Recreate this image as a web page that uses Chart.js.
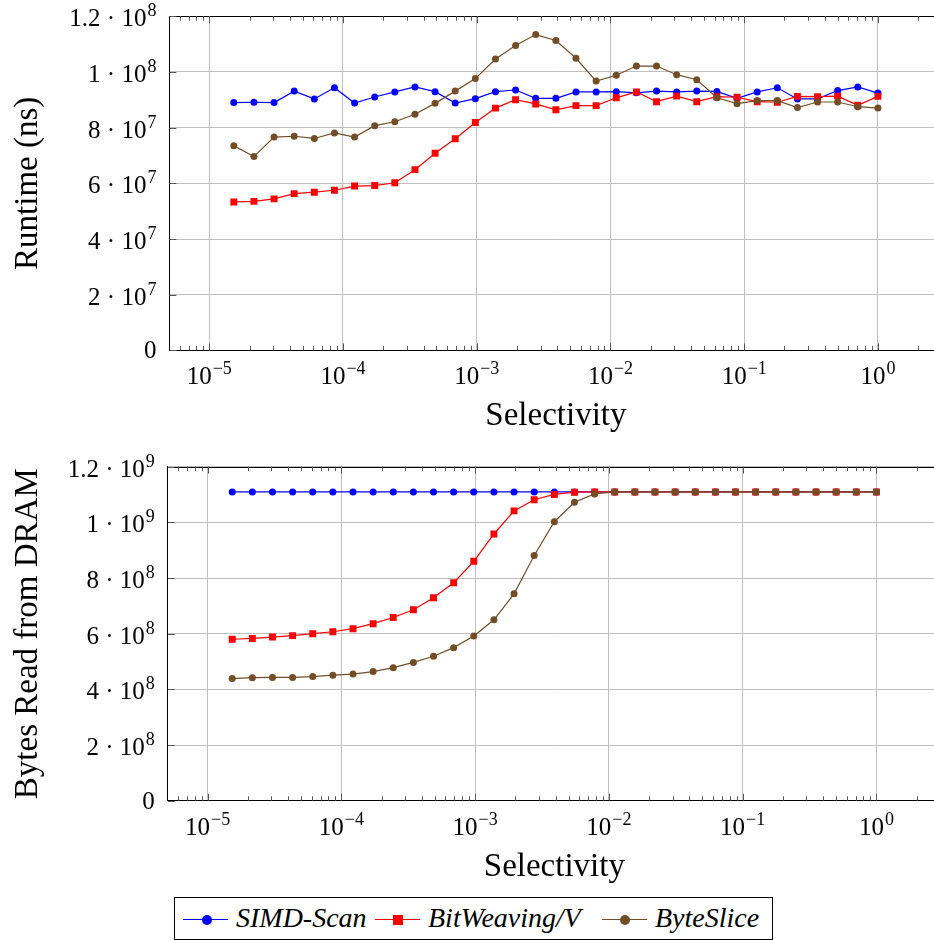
<!DOCTYPE html>
<html>
<head>
<meta charset="utf-8">
<script src="https://cdn.jsdelivr.net/npm/chart.js@4.4.1/dist/chart.umd.min.js"></script>
<style>
  html, body { margin: 0; padding: 0; overflow: hidden; background: #fff; }
  body { width: 934px; height: 940px; position: relative; }
  canvas { position: absolute; left: 0; }
  #runtime { top: 0; }
  #bytes { top: 450px; }
  #legend {
    position: absolute; left: 174px; top: 897px; width: 599px; height: 43px;
    border: 1px solid #000; box-sizing: border-box; background: #fff;
    font: italic 28px 'Liberation Serif', 'DejaVu Serif', serif;
  }
  #legend .line { position: absolute; top: 21px; height: 1.2px; width: 45px; }
  #legend .mark { position: absolute; width: 10px; height: 10px; top: 16.5px; }
  #legend .txt { position: absolute; top: 6px; line-height: 28px; white-space: nowrap; }
</style>
</head>
<body>
<canvas id="runtime" width="960" height="450"></canvas>
<canvas id="bytes" width="960" height="450"></canvas>
<div id="legend">
  <div class="line" style="left:8px;background:#0000ff"></div>
  <div class="mark" style="left:27px;background:#0000ff;border-radius:50%"></div>
  <span class="txt" style="left:61px">SIMD-Scan</span>
  <div class="line" style="left:200px;background:#ff0000"></div>
  <div class="mark" style="left:218px;background:#ff0000"></div>
  <span class="txt" style="left:253px">BitWeaving/V</span>
  <div class="line" style="left:427px;background:#734d26"></div>
  <div class="mark" style="left:445px;background:#734d26;border-radius:50%"></div>
  <span class="txt" style="left:480px">ByteSlice</span>
</div>
<script>
// selectivity sampled at 2^-16 ... 2^0 in half-power steps
const selectivity = [
  1.526e-5, 2.158e-5, 3.052e-5, 4.316e-5, 6.104e-5, 8.632e-5, 1.221e-4, 1.726e-4,
  2.441e-4, 3.453e-4, 4.883e-4, 6.905e-4, 9.766e-4, 1.381e-3, 1.953e-3, 2.762e-3,
  3.906e-3, 5.524e-3, 7.813e-3, 1.105e-2, 1.563e-2, 2.210e-2, 3.125e-2, 4.419e-2,
  6.25e-2, 8.839e-2, 0.125, 0.1768, 0.25, 0.3536, 0.5, 0.7071, 1,
];

// runtime (ns)
const runtimeSimd = [
  8.90e7, 8.91e7, 8.90e7, 9.31e7, 9.03e7, 9.43e7, 8.88e7, 9.10e7,
  9.28e7, 9.46e7, 9.29e7, 8.88e7, 9.04e7, 9.29e7, 9.35e7, 9.05e7,
  9.05e7, 9.28e7, 9.28e7, 9.29e7, 9.25e7, 9.31e7, 9.28e7, 9.31e7,
  9.30e7, 9.05e7, 9.28e7, 9.43e7, 9.03e7, 9.03e7, 9.33e7, 9.46e7, 9.24e7,
];
const runtimeBitWeaving = [
  5.33e7, 5.35e7, 5.44e7, 5.63e7, 5.68e7, 5.75e7, 5.90e7, 5.92e7,
  6.02e7, 6.49e7, 7.08e7, 7.60e7, 8.18e7, 8.70e7, 9.00e7, 8.85e7,
  8.64e7, 8.79e7, 8.79e7, 9.07e7, 9.28e7, 8.93e7, 9.13e7, 8.93e7,
  9.11e7, 9.09e7, 8.93e7, 8.91e7, 9.12e7, 9.11e7, 9.13e7, 8.80e7, 9.12e7,
];
const runtimeByteSlice = [
  7.35e7, 6.96e7, 7.66e7, 7.69e7, 7.61e7, 7.81e7, 7.66e7, 8.07e7,
  8.21e7, 8.48e7, 8.87e7, 9.31e7, 9.76e7, 1.046e8, 1.095e8, 1.134e8,
  1.113e8, 1.049e8, 9.67e7, 9.88e7, 1.021e8, 1.021e8, 9.90e7, 9.72e7,
  9.07e7, 8.86e7, 8.97e7, 8.97e7, 8.72e7, 8.92e7, 8.92e7, 8.75e7, 8.70e7,
];

// bytes read from DRAM
const bytesSimd = [
  1.109e9, 1.109e9, 1.109e9, 1.109e9, 1.109e9, 1.109e9, 1.109e9, 1.109e9,
  1.109e9, 1.109e9, 1.109e9, 1.109e9, 1.109e9, 1.109e9, 1.109e9, 1.109e9,
  1.109e9, 1.109e9, 1.109e9, 1.109e9, 1.109e9, 1.109e9, 1.109e9, 1.109e9,
  1.109e9, 1.109e9, 1.109e9, 1.109e9, 1.109e9, 1.109e9, 1.109e9, 1.109e9, 1.109e9,
];
const bytesBitWeaving = [
  5.80e8, 5.83e8, 5.88e8, 5.93e8, 6.00e8, 6.07e8, 6.18e8, 6.36e8,
  6.58e8, 6.86e8, 7.29e8, 7.83e8, 8.60e8, 9.58e8, 1.041e9, 1.081e9,
  1.100e9, 1.108e9, 1.109e9, 1.109e9, 1.109e9, 1.109e9, 1.109e9, 1.109e9,
  1.109e9, 1.109e9, 1.109e9, 1.109e9, 1.109e9, 1.109e9, 1.109e9, 1.109e9, 1.109e9,
];
const bytesByteSlice = [
  4.39e8, 4.42e8, 4.43e8, 4.43e8, 4.46e8, 4.51e8, 4.55e8, 4.64e8,
  4.78e8, 4.97e8, 5.19e8, 5.50e8, 5.92e8, 6.50e8, 7.43e8, 8.81e8,
  1.002e9, 1.072e9, 1.102e9, 1.109e9, 1.109e9, 1.109e9, 1.109e9, 1.109e9,
  1.109e9, 1.109e9, 1.109e9, 1.109e9, 1.109e9, 1.109e9, 1.109e9, 1.109e9, 1.109e9,
];

const selectivityTicks = [1e-5, 1e-4, 1e-3, 1e-2, 1e-1, 1];
const selectivityTickLabels = ['10^−5', '10^−4', '10^−3', '10^−2', '10^−1', '10^0'];
const runtimeTicks = [0, 2e7, 4e7, 6e7, 8e7, 1e8, 1.2e8];
const runtimeTickLabels = ['0', '2 · 10^7', '4 · 10^7', '6 · 10^7', '8 · 10^7', '1 · 10^8', '1.2 · 10^8'];
const bytesTicks = [0, 2e8, 4e8, 6e8, 8e8, 1e9, 1.2e9];
const bytesTickLabels = ['0', '2 · 10^8', '4 · 10^8', '6 · 10^8', '8 · 10^8', '1 · 10^9', '1.2 · 10^9'];

const COLORS = {
  simd: '#0000ff',
  bitweaving: '#ff0000',
  byteslice: '#734d26',
  grid: '#bfbfbf',
  tick: '#555555',
};
const SERIF = "'Liberation Serif', 'DejaVu Serif', serif";
const X_MIN = Math.pow(10, -5.298);
const X_MAX = Math.pow(10, 0.482);

// label like "1.2 · 10^8": base text plus a raised exponent
function drawPow(ctx, label, x, y, align) {
  const [base, sup] = label.split('^');
  ctx.font = `25px ${SERIF}`;
  const wb = ctx.measureText(base).width;
  let ws = 0;
  if (sup) {
    ctx.font = `18px ${SERIF}`;
    ws = ctx.measureText(sup).width + 1;
  }
  const x0 = align === 'right' ? x - wb - ws : x - (wb + ws) / 2;
  ctx.textAlign = 'left';
  ctx.textBaseline = 'alphabetic';
  ctx.font = `25px ${SERIF}`;
  ctx.fillText(base, x0, y);
  if (sup) {
    ctx.font = `18px ${SERIF}`;
    ctx.fillText(sup, x0 + wb + 1, y - 10);
  }
}

const framePlugin = {
  id: 'frame',
  afterDraw(chart, args, opts) {
    const { ctx, chartArea: a, scales: { x, y } } = chart;
    ctx.save();
    ctx.lineWidth = 1;

    // top border
    ctx.strokeStyle = '#000';
    ctx.beginPath();
    ctx.moveTo(a.left, Math.round(a.top) + 0.5);
    ctx.lineTo(a.right, Math.round(a.top) + 0.5);
    ctx.stroke();

    // log ticks, inward, bottom and top
    ctx.strokeStyle = COLORS.tick;
    for (let e = -6; e <= 0; e++) {
      for (let m = 1; m <= 9; m++) {
        const v = m * Math.pow(10, e);
        if (v < x.min || v > x.max) continue;
        const px = Math.round(x.getPixelForValue(v)) + 0.5;
        const len = m === 1 ? 7 : 4.5;
        ctx.beginPath();
        ctx.moveTo(px, a.bottom);
        ctx.lineTo(px, a.bottom - len);
        ctx.moveTo(px, a.top);
        ctx.lineTo(px, a.top + len);
        ctx.stroke();
      }
    }
    opts.yTicks.forEach(v => {
      const py = Math.round(y.getPixelForValue(v)) + 0.5;
      ctx.beginPath();
      ctx.moveTo(a.left, py);
      ctx.lineTo(a.left + 7, py);
      ctx.stroke();
    });

    ctx.fillStyle = '#000';
    selectivityTicks.forEach((v, i) => {
      drawPow(ctx, selectivityTickLabels[i], x.getPixelForValue(v), a.bottom + 34, 'center');
    });
    opts.yTicks.forEach((v, i) => {
      const label = opts.yLabels[i];
      const off = label.includes('^') ? 10 : 8;
      drawPow(ctx, label, a.left - 13, y.getPixelForValue(v) + off, 'right');
    });

    ctx.font = `33px ${SERIF}`;
    ctx.textAlign = 'center';
    ctx.textBaseline = 'alphabetic';
    ctx.fillText('Selectivity', (a.left + a.right) / 2, a.bottom + 75);
    ctx.translate(37, (a.top + a.bottom) / 2);
    ctx.rotate(-Math.PI / 2);
    ctx.fillText(opts.yTitle, 0, 0);
    ctx.restore();
  },
};

function series(label, values, color, style, order) {
  return {
    label,
    data: selectivity.map((s, i) => ({ x: s, y: values[i] })),
    borderColor: color,
    backgroundColor: color,
    borderWidth: 1.2,
    pointStyle: style,
    pointRadius: style === 'rect' ? 4.9 : 3.5,
    pointBorderWidth: 0,
    tension: 0,
    order,
  };
}

function renderPanel(canvasId, area, datasets, yTicks, yLabels, yTitle) {
  const canvas = document.getElementById(canvasId);
  return new Chart(canvas, {
    type: 'line',
    data: { datasets },
    options: {
      responsive: false,
      animation: false,
      devicePixelRatio: 1,
      layout: {
        autoPadding: false,
        padding: { left: 0, top: area.top, right: canvas.width - area.right, bottom: 0 },
      },
      plugins: {
        legend: { display: false },
        tooltip: { enabled: false },
        frame: { yTicks, yLabels, yTitle },
      },
      scales: {
        x: {
          type: 'logarithmic',
          min: X_MIN,
          max: X_MAX,
          afterBuildTicks: s => { s.ticks = selectivityTicks.map(v => ({ value: v })); },
          afterFit: s => { s.height = canvas.height - area.bottom; },
          ticks: { display: false },
          grid: { color: COLORS.grid, lineWidth: 1, drawTicks: false },
          border: { color: '#000', width: 1 },
        },
        y: {
          min: 0,
          max: yTicks[yTicks.length - 1],
          afterBuildTicks: s => { s.ticks = yTicks.map(v => ({ value: v })); },
          afterFit: s => { s.width = area.left; },
          ticks: { display: false },
          grid: { color: COLORS.grid, lineWidth: 1, drawTicks: false },
          border: { color: '#000', width: 1 },
        },
      },
    },
    plugins: [framePlugin],
  });
}

renderPanel('runtime', { left: 169.4, top: 16.2, right: 942.4, bottom: 350.4 }, [
  series('SIMD-Scan', runtimeSimd, COLORS.simd, 'circle', 3),
  series('BitWeaving/V', runtimeBitWeaving, COLORS.bitweaving, 'rect', 2),
  series('ByteSlice', runtimeByteSlice, COLORS.byteslice, 'circle', 1),
], runtimeTicks, runtimeTickLabels, 'Runtime (ns)');

renderPanel('bytes', { left: 167.8, top: 16.6, right: 940.9, bottom: 350.8 }, [
  series('SIMD-Scan', bytesSimd, COLORS.simd, 'circle', 3),
  series('BitWeaving/V', bytesBitWeaving, COLORS.bitweaving, 'rect', 2),
  series('ByteSlice', bytesByteSlice, COLORS.byteslice, 'circle', 1),
], bytesTicks, bytesTickLabels, 'Bytes Read from DRAM');
</script>
</body>
</html>
